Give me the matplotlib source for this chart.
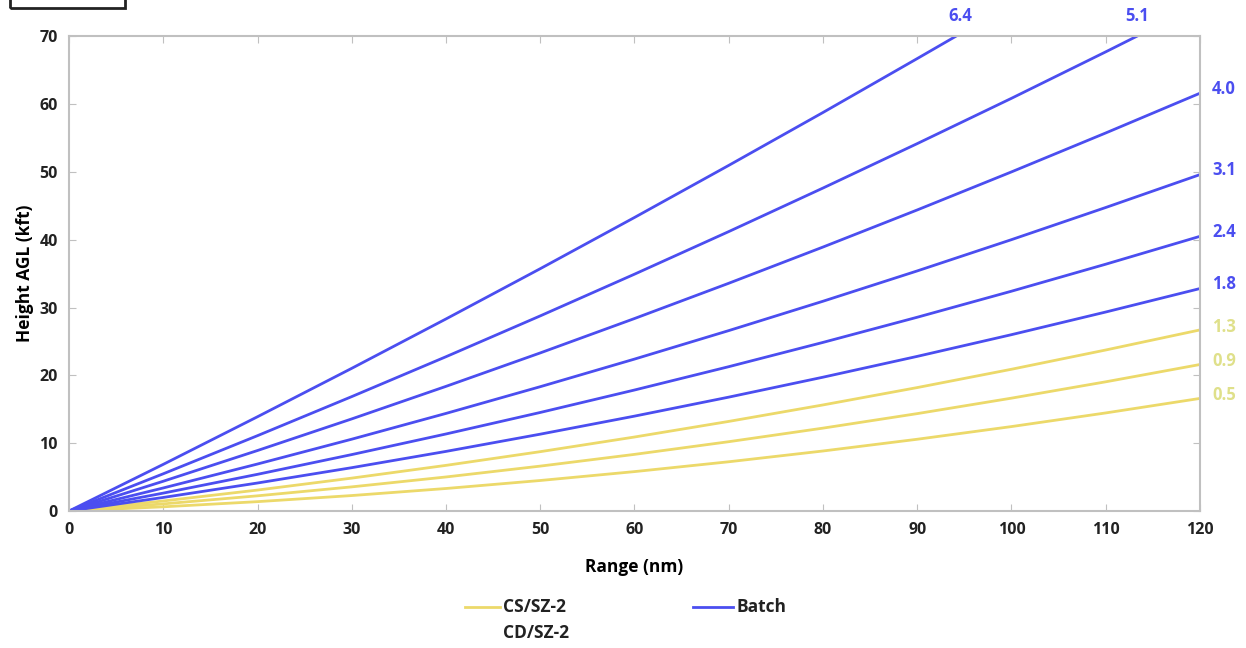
import matplotlib
matplotlib.use("Agg")
import matplotlib.pyplot as plt
from matplotlib.lines import Line2D
from matplotlib.patches import Rectangle

# beam heights (kft) vs range (nm), per elevation angle
rng = [0, 10, 20, 30, 40, 50, 60, 70, 80, 90, 100, 110, 120]
cs_angles = ["0.5", "0.9", "1.3"]
cs_heights = [
    [0, 0.62, 1.38, 2.28, 3.32, 4.50, 5.81, 7.26, 8.85, 10.58, 12.45, 14.46, 16.6],
    [0, 1.05, 2.24, 3.56, 5.02, 6.62, 8.35, 10.22, 12.22, 14.36, 16.64, 19.05, 21.6],
    [0, 1.48, 3.09, 4.85, 6.73, 8.75, 10.91, 13.21, 15.64, 18.20, 20.90, 23.74, 26.7],
]
batch_angles = ["1.8", "2.4", "3.1", "4.0"]
batch_heights = [
    [0, 2.00, 4.13, 6.39, 8.79, 11.33, 13.99, 16.79, 19.73, 22.80, 26.00, 29.34, 32.8],
    [0, 2.64, 5.41, 8.32, 11.36, 14.53, 17.84, 21.28, 24.86, 28.57, 32.41, 36.39, 40.5],
    [0, 3.40, 6.93, 10.59, 14.39, 18.33, 22.40, 26.60, 30.93, 35.40, 40.01, 44.75, 49.6],
    [0, 4.39, 8.92, 13.58, 18.38, 23.31, 28.38, 33.58, 38.92, 44.39, 50.00, 55.74, 61.6],
]
# the two steepest beams leave the top of the plot
rng_51 = [0, 10, 20, 30, 40, 50, 60, 70, 80, 90, 100, 110, 113.3]
h_51 = [0, 5.49, 11.11, 16.87, 22.75, 28.77, 34.92, 41.20, 47.62, 54.17, 60.85, 67.7, 70]
rng_64 = [0, 10, 20, 30, 40, 50, 60, 70, 80, 90, 94.1]
h_64 = [0, 6.88, 13.90, 21.04, 28.32, 35.73, 43.28, 50.96, 58.76, 66.71, 70]

BLUE = "#4b4ef0"
YELLOW = "#ecd96a"
LBL_YELLOW = "#dfe08a"
GREY = "#c0c0c0"

plt.rcParams["font.family"] = ["Open Sans", "DejaVu Sans"]

fig = plt.figure(figsize=(12.46, 6.48), dpi=100)
ax = fig.add_axes([0.0554, 0.2114, 0.9076, 0.7326])

for h in cs_heights:
    ax.plot(rng, h, color=YELLOW, lw=2)
for h in batch_heights:
    ax.plot(rng, h, color=BLUE, lw=2)
ax.plot(rng_51, h_51, color=BLUE, lw=2)
ax.plot(rng_64, h_64, color=BLUE, lw=2)

ax.set_xlim(0, 120)
ax.set_ylim(0, 70)
ax.set_xticks(range(0, 121, 10))
ax.set_yticks(range(0, 71, 10))
ax.tick_params(direction="in", length=5, color=GREY, top=True, right=True,
               labelsize=11.5, pad=8)
for lab in ax.get_xticklabels() + ax.get_yticklabels():
    lab.set_fontweight("bold")
    lab.set_color("#222222")
for sp in ax.spines.values():
    sp.set_color(GREY)
    sp.set_linewidth(1.5)

ax.set_xlabel("Range (nm)", fontsize=12.5, fontweight="bold", labelpad=14)
ax.set_ylabel("Height AGL (kft)", fontsize=12.5, fontweight="bold", labelpad=4)

# angle labels at the end of each beam
for a, h in zip(cs_angles, cs_heights):
    ax.text(121.3, h[-1] + 0.5, a, color=LBL_YELLOW, fontsize=12,
            fontweight="bold", va="center", ha="left", clip_on=False)
for a, h in zip(batch_angles, batch_heights):
    ax.text(121.3, h[-1] + 0.7, a, color=BLUE, fontsize=12,
            fontweight="bold", va="center", ha="left", clip_on=False)
ax.text(113.3, 73, "5.1", color=BLUE, fontsize=12,
        fontweight="bold", va="center", ha="center", clip_on=False)
ax.text(94.6, 73, "6.4", color=BLUE, fontsize=12,
        fontweight="bold", va="center", ha="center", clip_on=False)

# legend drawn by hand
W, H = 1246, 648
fig.add_artist(Line2D([465 / W, 500 / W], [1 - 607 / H] * 2, color=YELLOW, lw=2))
fig.text(503 / W, 1 - 607 / H, "CS/SZ-2", fontsize=12.5, fontweight="bold",
         va="center", color="#222222")
fig.text(503 / W, 1 - 633 / H, "CD/SZ-2", fontsize=12.5, fontweight="bold",
         va="center", color="#222222")
fig.add_artist(Line2D([693 / W, 733 / W], [1 - 607 / H] * 2, color=BLUE, lw=2))
fig.text(737 / W, 1 - 607 / H, "Batch", fontsize=12.5, fontweight="bold",
         va="center", color="#222222")

# cut-off box at the top left
fig.add_artist(Rectangle((10 / W, 1 - 8 / H), 115 / W, 0.1, fill=False,
                         edgecolor="#222222", lw=2, transform=fig.transFigure))

fig.savefig("out.png", dpi=100, facecolor="white")
